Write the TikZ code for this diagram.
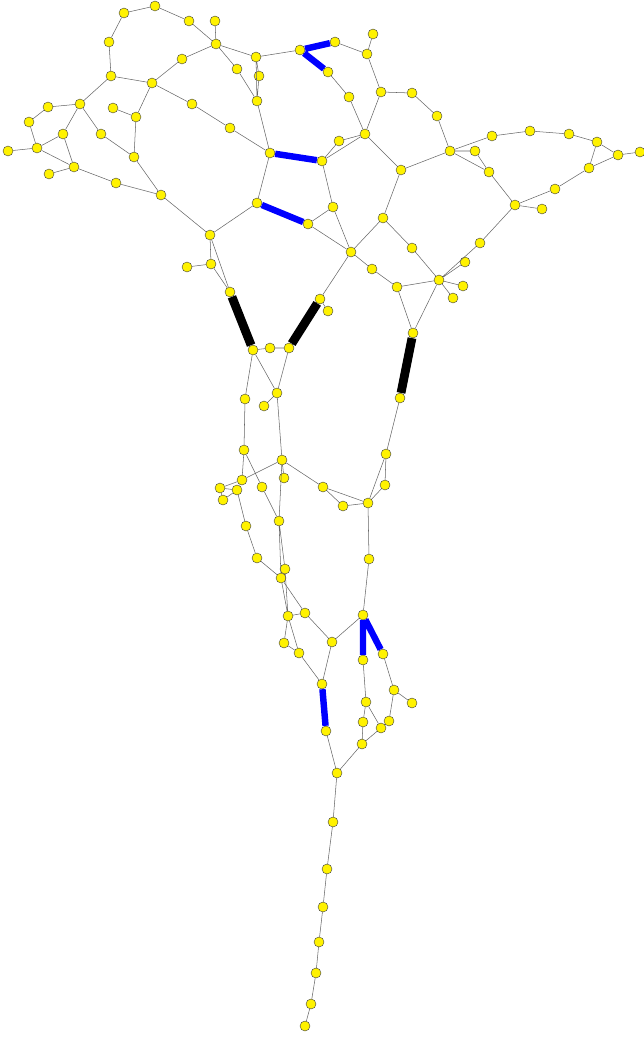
\documentclass[tikz,border=0pt]{standalone}
\usepackage{tikz}

\tikzset{
  vtx/.style={circle, inner sep=0pt, minimum size=3mm, fill=yellow, draw=black!75, line width=0.35pt},
  link/.style={draw=black!60, line width=0.45pt},
  bluelink/.style={draw=blue, line width=5.5pt},
  blacklink/.style={draw=black, line width=7.5pt}
}

\begin{document}
\begin{tikzpicture}[x=0.3mm, y=-0.3mm]
			\useasboundingbox (0,0) rectangle (643,1037);
			% top left part
			\node[vtx](a1) at (124,13){};
			\node[vtx](a2) at (155,6){};
			\node[vtx](a3) at (189,21){};
			\node[vtx](a4) at (215,21){};
			\node[vtx](a5) at (216,44){};
			\node[vtx](a6) at (109,42){};
			\node[vtx](a7) at (111,76){};
			\node[vtx](a8) at (152,83){};
			\node[vtx](a9) at (182,59){};
			\node[vtx](a10) at (80,104){};
			\node[vtx](a11) at (48,107){};
			\node[vtx](a12) at (29,122){};
			\node[vtx](a13) at (63,134){};
			\node[vtx](a14) at (37,148){};
			\node[vtx](a15) at (8,151){};
			\node[vtx](a16) at (74,167){};
			\node[vtx](a17) at (49,174){};
			\node[vtx](a18) at (101,134){};
			\node[vtx](a19) at (113,108){};
			\node[vtx](a20) at (136,117){};
			\node[vtx](a21) at (134,157){};
			\node[vtx](a22) at (116,183){};
			\node[vtx](a23) at (161,195){};
			\node[vtx](a24) at (192,104){};
			\node[vtx](a25) at (230,128){};
			% top middle part
			\node[vtx](b1) at (256,57){};
			\node[vtx](b2) at (237,69){};
			\node[vtx](b3) at (259,76){};
			\node[vtx](b4) at (257,101){};
			\node[vtx](b5) at (300,50){};
			\node[vtx](b6) at (335,42){};
			\node[vtx](b7) at (328,72){};
			\node[vtx](b8) at (349,97){};
			\node[vtx](b9) at (373,34){};
			\node[vtx](b10) at (367,54){};
			\node[vtx](b11) at (381,92){};
			\node[vtx](b12) at (412,93){};
			\node[vtx](b13) at (365,134){};
			\node[vtx](b14) at (339,141){};
			\node[vtx](b15) at (270,153){};
			\node[vtx](b16) at (322,161){};
			\node[vtx](b17) at (257,203){};
			\node[vtx](b18) at (308,224){};
			\node[vtx](b19) at (333,207){};
			\node[vtx](b20) at (351,252){};
			\node[vtx](b21) at (401,170){};
			\node[vtx](b22) at (383,218){};
			\node[vtx](b23) at (210,235){};
			% right part
			\node[vtx](c1) at (437,116){};
			\node[vtx](c2) at (450,151){};
			\node[vtx](c3) at (475,151){};
			\node[vtx](c4) at (492,136){};
			\node[vtx](c5) at (489,172){};
			\node[vtx](c6) at (530,131){};
			\node[vtx](c7) at (569,134){};
			\node[vtx](c8) at (597,142){};
			\node[vtx](c9) at (618,155){};
			\node[vtx](c10) at (640,152){};
			\node[vtx](c11) at (589,168){};
			\node[vtx](c12) at (555,189){};
			\node[vtx](c13) at (515,205){};
			\node[vtx](c14) at (542,209){};
			\node[vtx](c15) at (480,243){};
			\node[vtx](c16) at (465,262){};
			\node[vtx](c17) at (412,248){};
			\node[vtx](c18) at (439,280){};
			\node[vtx](c19) at (463,286){};
			\node[vtx](c20) at (453,298){};
			\node[vtx](c21) at (397,287){};
			\node[vtx](c22) at (372,269){};
			\node[vtx](c23) at (413,333){};
			\node[vtx](c24) at (400,398){};
			% middle part
			\node[vtx](d1) at (211,264){};
			\node[vtx](d2) at (187,267){};
			\node[vtx](d3) at (230,292){};
			\node[vtx](d4) at (253,350){};
			\node[vtx](d5) at (270,348){};
			\node[vtx](d6) at (289,348){};
			\node[vtx](d7) at (320,299){};
			\node[vtx](d8) at (328,311){};
			\node[vtx](d9) at (245,399){};
			\node[vtx](d10) at (277,393){};
			\node[vtx](d11) at (264,406){};
			% lower middle part
			\node[vtx](e1) at (244,450){};
			\node[vtx](e2) at (282,460){};
			\node[vtx](e3) at (284,478){};
			\node[vtx](e4) at (242,480){};
			\node[vtx](e5) at (220,488){};
			\node[vtx](e6) at (237,490){};
			\node[vtx](e7) at (223,500){};
			\node[vtx](e8) at (262,487){};
			\node[vtx](e9) at (279,521){};
			\node[vtx](e10) at (246,526){};
			\node[vtx](e11) at (257,558){};
			\node[vtx](e12) at (285,569){};
			\node[vtx](e13) at (281,578){};
			\node[vtx](e14) at (288,616){};
			\node[vtx](e15) at (305,613){};
			\node[vtx](e16) at (323,487){};
			\node[vtx](e17) at (343,506){};
			\node[vtx](e18) at (368,503){};
			\node[vtx](e19) at (386,454){};
			\node[vtx](e20) at (385,485){};
			\node[vtx](e21) at (369,559){};
			% lower part
			\node[vtx](f1) at (363,615){};
			\node[vtx](f2) at (332,642){};
			\node[vtx](f3) at (284,643){};
			\node[vtx](f4) at (299,653){};
			\node[vtx](f5) at (322,684){};
			\node[vtx](f6) at (326,731){};
			\node[vtx](f7) at (337,773){};
			\node[vtx](f8) at (363,660){};
			\node[vtx](f9) at (383,654){};
			\node[vtx](f10) at (394,690){};
			\node[vtx](f11) at (412,703){};
			\node[vtx](f12) at (366,702){};
			\node[vtx](f13) at (363,722){};
			\node[vtx](f14) at (381,728){};
			\node[vtx](f15) at (389,721){};
			\node[vtx](f16) at (362,744){};
			% tail
			\node[vtx](g1) at (333,822){};
			\node[vtx](g2) at (327,869){};
			\node[vtx](g3) at (323,907){};
			\node[vtx](g4) at (319,942){};
			\node[vtx](g5) at (316,973){};
			\node[vtx](g6) at (311,1004){};
			\node[vtx](g7) at (305,1026){};
			% thin links
			\draw[link] (a1) -- (a2) (a2) -- (a3) (a3) -- (a5) (a4) -- (a5) (a1) -- (a6) (a6) -- (a7);
			\draw[link] (a7) -- (a8) (a8) -- (a9) (a9) -- (a5) (a7) -- (a10) (a10) -- (a11) (a11) -- (a12);
			\draw[link] (a12) -- (a14) (a14) -- (a15) (a14) -- (a13) (a13) -- (a10) (a13) -- (a16) (a14) -- (a16);
			\draw[link] (a16) -- (a17) (a16) -- (a22) (a22) -- (a23) (a10) -- (a18) (a18) -- (a21) (a19) -- (a20);
			\draw[link] (a20) -- (a8) (a20) -- (a21) (a21) -- (a23) (a23) -- (b23) (a8) -- (a24) (a24) -- (a25) (a25) -- (b15);
			\draw[link] (a5) -- (b1) (a5) -- (b2) (b2) -- (b4) (b1) -- (b3) (b3) -- (b4) (b1) -- (b4) (b1) -- (b5);
			\draw[link] (b6) -- (b10) (b10) -- (b9) (b10) -- (b11) (b11) -- (b12) (b11) -- (b13) (b7) -- (b8) (b8) -- (b13);
			\draw[link] (b4) -- (b15) (b16) -- (b14) (b16) -- (b13) (b14) -- (b13) (b13) -- (b21) (b21) -- (c2) (b21) -- (b22);
			\draw[link] (b16) -- (b19) (b19) -- (b20) (b18) -- (b19) (b18) -- (b20) (b17) -- (b15) (b17) -- (b23);
			\draw[link] (b22) -- (c17) (b22) -- (b20) (b12) -- (c1);
			\draw[link] (c1) -- (c2) (c2) -- (c3) (c2) -- (c4) (c2) -- (c5) (c3) -- (c5) (c4) -- (c6) (c6) -- (c7);
			\draw[link] (c7) -- (c8) (c8) -- (c9) (c9) -- (c10) (c8) -- (c11) (c9) -- (c11) (c11) -- (c12) (c12) -- (c13);
			\draw[link] (c13) -- (c14) (c5) -- (c13) (c13) -- (c15) (c15) -- (c18) (c16) -- (c18) (c18) -- (c19) (c18) -- (c20);
			\draw[link] (c17) -- (c18) (b20) -- (c22) (c22) -- (c21) (c21) -- (c18) (c21) -- (c23) (c18) -- (c23);
			\draw[link] (b23) -- (d1) (d1) -- (d2) (d1) -- (d3) (b23) -- (d3) (d4) -- (d5) (d5) -- (d6) (d7) -- (d8);
			\draw[link] (d7) -- (b20) (d4) -- (d9) (d4) -- (d10) (d6) -- (d10) (d10) -- (d11);
			\draw[link] (d9) -- (e1) (d10) -- (e2) (e1) -- (e4) (e1) -- (e8) (e2) -- (e4) (e2) -- (e3) (e2) -- (e9);
			\draw[link] (e2) -- (e16) (e16) -- (e17) (e16) -- (e18) (e17) -- (e18) (e18) -- (e19) (e18) -- (e20);
			\draw[link] (e19) -- (e20) (e19) -- (c24) (e18) -- (e21) (e21) -- (f1);
			\draw[link] (e4) -- (e5) (e4) -- (e6) (e5) -- (e6) (e5) -- (e7) (e7) -- (e6) (e6) -- (e10) (e10) -- (e11);
			\draw[link] (e11) -- (e13) (e8) -- (e9) (e9) -- (e12) (e9) -- (e13) (e12) -- (e14) (e13) -- (e14);
			\draw[link] (e13) -- (e15) (e14) -- (e15) (e15) -- (f2);
			\draw[link] (e14) -- (f3) (e14) -- (f4) (f3) -- (f4) (f2) -- (f1) (f2) -- (f5) (f4) -- (f5);
			\draw[link] (f6) -- (f7) (f7) -- (f16) (f8) -- (f12) (f12) -- (f13) (f12) -- (f14) (f13) -- (f16) (f14) -- (f16);
			\draw[link] (f9) -- (f10) (f10) -- (f11) (f10) -- (f15) (f15) -- (f14);
			\draw[link] (f7) -- (g1) (g1) -- (g2) (g2) -- (g3) (g3) -- (g4) (g4) -- (g5) (g5) -- (g6) (g6) -- (g7);
			% thick links
			\draw[bluelink] (b5) -- (b6) (b5) -- (b7) (b15) -- (b16) (b17) -- (b18);
			\draw[bluelink] (f5) -- (f6) (f1) -- (f8) (f1) -- (f9);
			\draw[blacklink] (d3) -- (d4) (d6) -- (d7) (c23) -- (c24);
			\end{tikzpicture}
\end{document}
